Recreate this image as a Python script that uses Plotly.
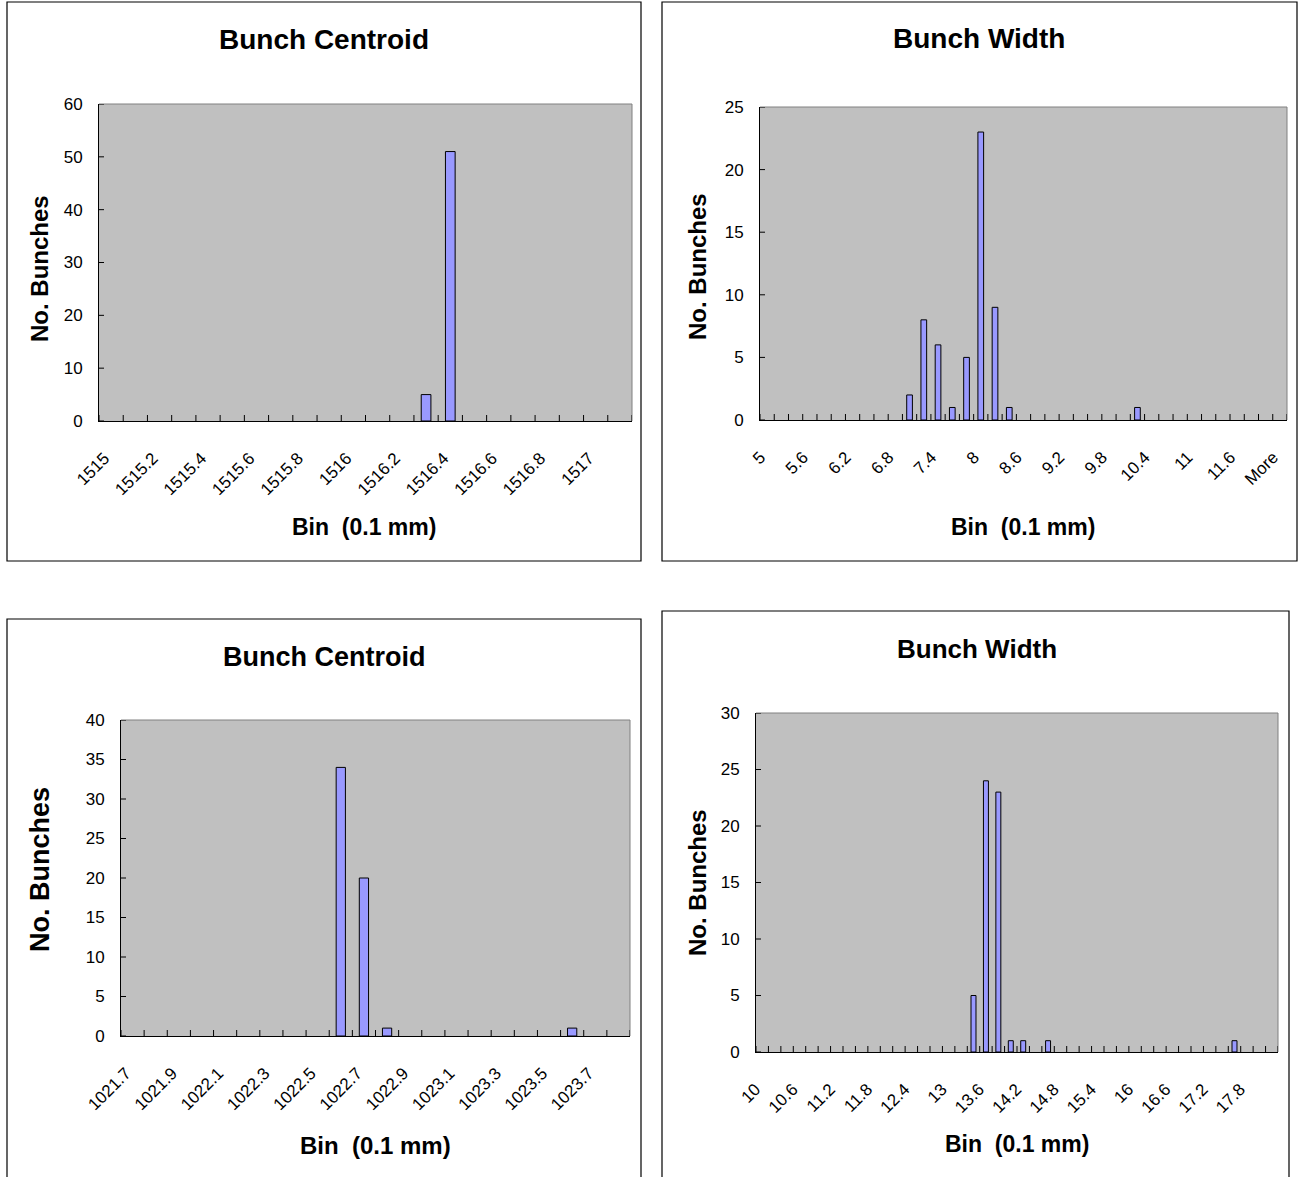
import plotly.graph_objects as go

W, H = 1298, 1177
FONT = "Arial, 'Liberation Sans', sans-serif"

# ---- histogram data -------------------------------------------------------
# Upper: bunch centroid
c1_bins = ["1515", "1515.1", "1515.2", "1515.3", "1515.4", "1515.5", "1515.6",
           "1515.7", "1515.8", "1515.9", "1516", "1516.1", "1516.2", "1516.3",
           "1516.4", "1516.5", "1516.6", "1516.7", "1516.8", "1516.9", "1517",
           "More"]
c1_counts = [0, 0, 0, 0, 0, 0, 0, 0, 0, 0, 0, 0, 0, 5, 51, 0, 0, 0, 0, 0, 0, 0]

# Upper: bunch width
c2_bins = ["5", "5.2", "5.4", "5.6", "5.8", "6", "6.2", "6.4", "6.6", "6.8",
           "7", "7.2", "7.4", "7.6", "7.8", "8", "8.2", "8.4", "8.6", "8.8",
           "9", "9.2", "9.4", "9.6", "9.8", "10", "10.2", "10.4", "10.6", "10.8",
           "11", "11.2", "11.4", "11.6", "11.8", "12", "More"]
c2_counts = [0, 0, 0, 0, 0, 0, 0, 0, 0, 0,
             2, 8, 6, 1, 5, 23, 9, 1, 0, 0,
             0, 0, 0, 0, 0, 0, 1, 0, 0, 0,
             0, 0, 0, 0, 0, 0, 0]

# Lower: bunch centroid
c3_bins = ["1021.7", "1021.8", "1021.9", "1022", "1022.1", "1022.2", "1022.3",
           "1022.4", "1022.5", "1022.6", "1022.7", "1022.8", "1022.9", "1023",
           "1023.1", "1023.2", "1023.3", "1023.4", "1023.5", "1023.6", "1023.7",
           "More"]
c3_counts = [0, 0, 0, 0, 0, 0, 0, 0, 0, 34, 20, 1, 0, 0, 0, 0, 0, 0, 0, 1, 0, 0]

# Lower: bunch width
c4_bins = ["10", "10.2", "10.4", "10.6", "10.8", "11", "11.2", "11.4", "11.6",
           "11.8", "12", "12.2", "12.4", "12.6", "12.8", "13", "13.2", "13.4",
           "13.6", "13.8", "14", "14.2", "14.4", "14.6", "14.8", "15", "15.2",
           "15.4", "15.6", "15.8", "16", "16.2", "16.4", "16.6", "16.8", "17",
           "17.2", "17.4", "17.6", "17.8", "18", "More"]
c4_counts = [0, 0, 0, 0, 0, 0, 0, 0, 0, 0, 0, 0, 0, 0, 0, 0, 0, 5, 24, 23,
             1, 1, 0, 1, 0, 0, 0, 0, 0, 0, 0, 0, 0, 0, 0, 0, 0, 0, 1, 0, 0, 0]

# ---- panel layout (pixels) -------------------------------------------------
panels = [
    dict(bins=c1_bins, counts=c1_counts, step=2, ymax=60, dy=10,
         plot=(99, 632, 104, 421), box=(7, 641, 2, 561),
         title="Bunch Centroid", title_xy=(324, 40), title_size=28,
         ytitle_xy=(40, 269), ytitle_size=24,
         xtitle_xy=(364, 527), xtitle_size=23),
    dict(bins=c2_bins, counts=c2_counts, step=3, ymax=25, dy=5,
         plot=(760, 1287, 107, 420), box=(662, 1297, 2, 561),
         title="Bunch Width", title_xy=(979, 38), title_size=28,
         ytitle_xy=(697, 267), ytitle_size=24,
         xtitle_xy=(1023, 527), xtitle_size=23),
    dict(bins=c3_bins, counts=c3_counts, step=2, ymax=40, dy=5,
         plot=(121, 630, 720, 1036), box=(7, 641, 619, 1190),
         title="Bunch Centroid", title_xy=(324, 657), title_size=27,
         ytitle_xy=(40, 870), ytitle_size=27,
         xtitle_xy=(375, 1145), xtitle_size=24),
    dict(bins=c4_bins, counts=c4_counts, step=3, ymax=30, dy=5,
         plot=(756, 1278, 713, 1052), box=(662, 1289, 611, 1190),
         title="Bunch Width", title_xy=(977, 649), title_size=26,
         ytitle_xy=(697, 883), ytitle_size=24,
         xtitle_xy=(1017, 1144), xtitle_size=23),
]


def px_x(x):
    return x / W


def px_y(y):
    return 1 - y / H


fig = go.Figure()
shapes = []
annotations = []

for k, p in enumerate(panels, start=1):
    xa = "x" if k == 1 else f"x{k}"
    ya = "y" if k == 1 else f"y{k}"
    n = len(p["bins"])
    idx = list(range(n))
    heights = [c if c > 0 else None for c in p["counts"]]

    fig.add_trace(go.Bar(
        x=idx, y=heights, xaxis=xa, yaxis=ya, width=0.4,
        marker=dict(color="#9999FF", line=dict(color="black", width=1)),
        showlegend=False, hoverinfo="skip",
    ))

    x0, x1, y0, y1 = p["plot"]
    fig.layout[f"xaxis{'' if k == 1 else k}"] = dict(
        domain=[px_x(x0), px_x(x1)], anchor=ya, automargin=False,
        range=[-0.5, n - 0.5], tickmode="array",
        tickvals=idx[::p["step"]],
        ticktext=[t + "\u00a0\u00a0" for t in p["bins"][::p["step"]]],
        tickangle=-45, ticks="", ticklabelstandoff=13,
        tickfont=dict(family=FONT, size=17, color="black"),
        showline=True, linecolor="black", linewidth=1,
        showgrid=False, zeroline=False, fixedrange=True,
    )
    fig.layout[f"yaxis{'' if k == 1 else k}"] = dict(
        domain=[px_y(y1), px_y(y0)], anchor=xa, automargin=False,
        range=[0, p["ymax"]], tickmode="linear", tick0=0, dtick=p["dy"],
        ticks="", ticklabelstandoff=12,
        tickfont=dict(family=FONT, size=17, color="black"),
        showline=True, linecolor="black", linewidth=1,
        showgrid=False, zeroline=False, fixedrange=True,
    )

    # grey frame on the top and right of the plot area
    shapes.append(dict(type="line", xref=f"{xa} domain", yref=f"{ya} domain",
                       x0=0, x1=1, y0=1, y1=1,
                       line=dict(color="#808080", width=1)))
    shapes.append(dict(type="line", xref=f"{xa} domain", yref=f"{ya} domain",
                       x0=1, x1=1, y0=0, y1=1,
                       line=dict(color="#808080", width=1)))

    # cross tick marks at category boundaries
    for b in range(n + 1):
        shapes.append(dict(type="line", xref=xa, yref=ya,
                           ysizemode="pixel", yanchor=0, y0=-6, y1=6,
                           x0=b - 0.5, x1=b - 0.5,
                           line=dict(color="black", width=1)))
    for v in range(0, p["ymax"] + 1, p["dy"]):
        shapes.append(dict(type="line", xref=xa, yref=ya,
                           xsizemode="pixel", xanchor=-0.5, x0=-6, x1=5,
                           y0=v, y1=v,
                           line=dict(color="black", width=1)))

    # chart border
    bx0, bx1, by0, by1 = p["box"]
    shapes.append(dict(type="rect", xref="paper", yref="paper",
                       x0=px_x(bx0), x1=px_x(bx1), y0=px_y(by1), y1=px_y(by0),
                       line=dict(color="black", width=1.2),
                       fillcolor="rgba(0,0,0,0)"))

    tx, ty = p["title_xy"]
    annotations.append(dict(text=f"<b>{p['title']}</b>", xref="paper",
                            yref="paper", x=px_x(tx), y=px_y(ty),
                            xanchor="center", yanchor="middle",
                            showarrow=False,
                            font=dict(family=FONT, size=p["title_size"],
                                      color="black")))
    yx, yy = p["ytitle_xy"]
    annotations.append(dict(text="<b>No. Bunches</b>", xref="paper",
                            yref="paper", x=px_x(yx), y=px_y(yy),
                            xanchor="center", yanchor="middle",
                            textangle=-90, showarrow=False,
                            font=dict(family=FONT, size=p["ytitle_size"],
                                      color="black")))
    xx, xy = p["xtitle_xy"]
    annotations.append(dict(text="<b>Bin\u00a0 (0.1 mm)</b>", xref="paper",
                            yref="paper", x=px_x(xx), y=px_y(xy),
                            xanchor="center", yanchor="middle",
                            showarrow=False,
                            font=dict(family=FONT, size=p["xtitle_size"],
                                      color="black")))

fig.update_layout(
    width=W, height=H, margin=dict(l=0, r=0, t=0, b=0, autoexpand=False),
    paper_bgcolor="white", plot_bgcolor="#C0C0C0",
    bargap=0.6, shapes=shapes, annotations=annotations,
    font=dict(family=FONT, color="black"),
)

fig.write_html("out.html", config={"displayModeBar": False})
